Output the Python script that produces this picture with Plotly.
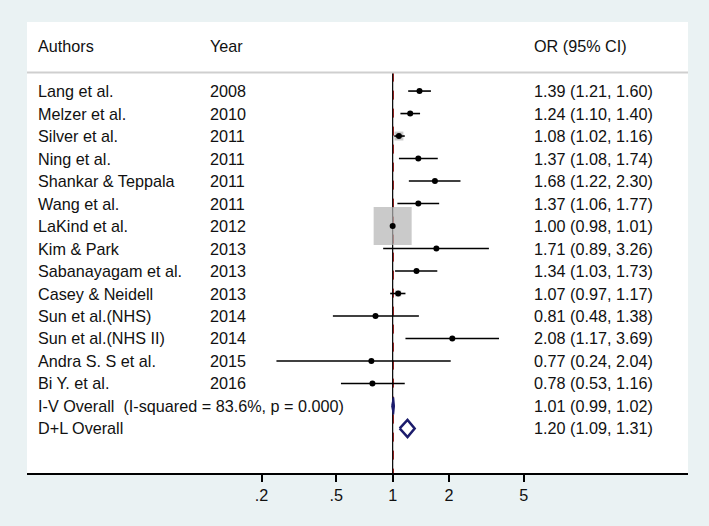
import math
import plotly.graph_objects as go

# ---------------- data ----------------
authors = ["Lang et al.", "Melzer et al.", "Silver et al.", "Ning et al.",
           "Shankar & Teppala", "Wang et al.", "LaKind et al.", "Kim & Park",
           "Sabanayagam et al.", "Casey & Neidell", "Sun et al.(NHS)",
           "Sun et al.(NHS II)", "Andra S. S et al.", "Bi Y. et al."]
years = [2008, 2010, 2011, 2011, 2011, 2011, 2012, 2013, 2013, 2013,
         2014, 2014, 2015, 2016]
or_est = [1.39, 1.24, 1.08, 1.37, 1.68, 1.37, 1.00, 1.71, 1.34, 1.07,
          0.81, 2.08, 0.77, 0.78]
ci_lo = [1.21, 1.10, 1.02, 1.08, 1.22, 1.06, 0.98, 0.89, 1.03, 0.97,
         0.48, 1.17, 0.24, 0.53]
ci_hi = [1.60, 1.40, 1.16, 1.74, 2.30, 1.77, 1.01, 3.26, 1.73, 1.17,
         1.38, 3.69, 2.04, 1.16]

pooled_labels = ["I-V Overall  (I-squared = 83.6%, p = 0.000)", "D+L Overall"]
pooled_est = [1.01, 1.20]
pooled_lo = [0.99, 1.09]
pooled_hi = [1.02, 1.31]

tick_vals = [0.2, 0.5, 1, 2, 5]
tick_text = [".2", ".5", "1", "2", "5"]
null_value = 1

# ---------------- styles ----------------
FONT = "Arial, Liberation Sans, Helvetica, sans-serif"
TXT = "#111111"
FS = 16.2
NAVY = "#1c1c6c"
BG = "#eaf2f3"
BOX_MAX = 38  # px side of the largest weight box

n = len(authors)
rows = list(range(1, n + 1))
pooled_rows = [n + 1, n + 2]

# inverse-variance weights -> box side proportional to sqrt(weight)
se = [(math.log(h) - math.log(l)) / 3.92 for l, h in zip(ci_lo, ci_hi)]
inv = [1 / s for s in se]
box_sizes = [BOX_MAX * v / max(inv) for v in inv]

fig = go.Figure()

# boxes
fig.add_trace(go.Scatter(
    x=or_est, y=rows, mode="markers",
    marker=dict(symbol="square", size=box_sizes, color="#b3b3b3",
                line=dict(width=0)),
    hoverinfo="skip", showlegend=False))

# CI lines
cx, cy = [], []
for l, h, r in zip(ci_lo, ci_hi, rows):
    cx += [l, h, None]
    cy += [r, r, None]
fig.add_trace(go.Scatter(x=cx, y=cy, mode="lines",
                         line=dict(color="black", width=1.6),
                         hoverinfo="skip", showlegend=False))

# point estimates
fig.add_trace(go.Scatter(x=or_est, y=rows, mode="markers",
                         marker=dict(color="black", size=6),
                         hoverinfo="skip", showlegend=False))

# diamonds
half_h = 0.38
for i, (e, l, h, r) in enumerate(zip(pooled_est, pooled_lo, pooled_hi, pooled_rows)):
    dx = [l, e, h, e, l]
    dy = [r, r - half_h, r, r + half_h, r]
    if i == 0:
        fig.add_trace(go.Scatter(x=dx, y=dy, mode="lines", fill="toself",
                                 fillcolor=NAVY, line=dict(color=NAVY, width=1.5),
                                 hoverinfo="skip", showlegend=False))
    else:
        fig.add_trace(go.Scatter(x=dx, y=dy, mode="lines",
                                 line=dict(color=NAVY, width=2.5),
                                 hoverinfo="skip", showlegend=False))

Y_TOP = -2.07
Y_BOT = 17.98
HEADER_ROW = -1.0
RULE_ROW = 0.18

# null line and overall line
fig.add_shape(type="line", xref="x", yref="y", x0=null_value, x1=null_value,
              y0=RULE_ROW, y1=Y_BOT, line=dict(color="black", width=1.2), layer="below")
fig.add_shape(type="line", xref="x", yref="y", x0=pooled_est[0], x1=pooled_est[0],
              y0=RULE_ROW, y1=Y_BOT, line=dict(color="#8b1a1a", width=1, dash="dash"),
              layer="below")
# header rule
fig.add_shape(type="line", xref="paper", yref="y", x0=0, x1=1,
              y0=RULE_ROW, y1=RULE_ROW, line=dict(color="#cfcfcf", width=2))

# text columns
COL_AUTH = 0.0140
COL_YEAR = 0.2740
COL_OR = 0.7635

def txt(x, y, s):
    fig.add_annotation(x=x, y=y, xref="paper", yref="y", text=s, showarrow=False,
                       xanchor="left", yanchor="middle",
                       font=dict(family=FONT, size=FS, color=TXT))

txt(COL_AUTH, HEADER_ROW, "Authors")
txt(COL_YEAR, HEADER_ROW, "Year")
txt(COL_OR, HEADER_ROW, "OR (95% CI)")
for a, yr, e, l, h, r in zip(authors, years, or_est, ci_lo, ci_hi, rows):
    txt(COL_AUTH, r, a)
    txt(COL_YEAR, r, str(yr))
    txt(COL_OR, r, f"{e:.2f} ({l:.2f}, {h:.2f})")
for lab, e, l, h, r in zip(pooled_labels, pooled_est, pooled_lo, pooled_hi, pooled_rows):
    txt(COL_AUTH, r, lab)
    txt(COL_OR, r, f"{e:.2f} ({l:.2f}, {h:.2f})")

fig.update_layout(
    width=709, height=526,
    margin=dict(l=27, r=21, t=22, b=53),
    paper_bgcolor=BG,
    plot_bgcolor="white",
    showlegend=False,
    xaxis=dict(type="log", range=[-1.950, 1.575], tickvals=tick_vals,
               ticktext=tick_text, ticks="outside", ticklen=7, tickwidth=1.5,
               tickcolor="black", showgrid=False, zeroline=False,
               showline=True, linecolor="black", linewidth=2,
               tickfont=dict(family=FONT, size=FS, color=TXT), fixedrange=True),
    yaxis=dict(range=[Y_BOT, Y_TOP], showgrid=False, zeroline=False,
               showticklabels=False, showline=False, ticks="", fixedrange=True),
)

fig.write_html(
    "out.html",
    config={"displayModeBar": False},
    post_script="document.body.style.margin='0';document.body.style.background='%s';" % BG,
)
